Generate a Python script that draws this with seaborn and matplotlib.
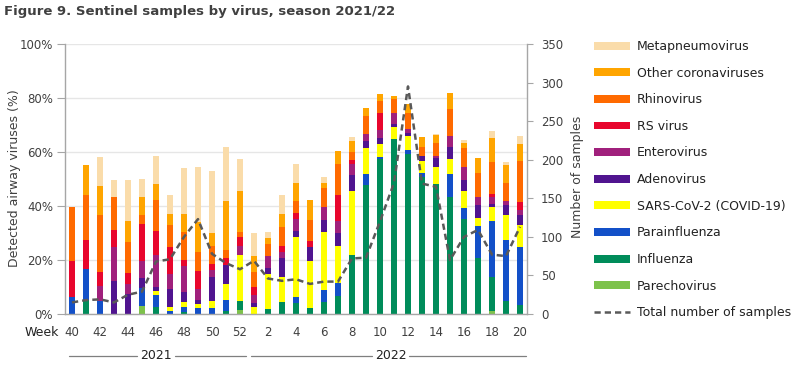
import matplotlib
matplotlib.use("Agg")
import matplotlib.pyplot as plt
import matplotlib.transforms as mtransforms
from matplotlib.lines import Line2D
from matplotlib.patches import Patch
from matplotlib.ticker import PercentFormatter, FixedLocator
import numpy as np
import pandas as pd
import seaborn as sns

# ---------------- data ----------------
weeks = [40, 41, 42, 43, 44, 45, 46, 47, 48, 49, 50, 51, 52,
         1, 2, 3, 4, 5, 6, 7, 8, 9, 10, 11, 12, 13, 14, 15, 16, 17, 18, 19, 20]

metapneumovirus = [0, 0, 10.8, 6.3, 15.2, 6.7, 10.4, 7.0, 16.7, 20.7, 23.0, 20.0, 11.9,
                   8.5, 1.9, 7.0, 6.7, 0, 2.2, 0, 1.5, 0, 0, 0, 0, 0, 0.4, 0, 1.1, 0, 2.6, 1.1, 3.0]
other_coronaviruses = [0, 11.1, 10.5, 0, 7.7, 6.7, 5.9, 4.1, 6.7, 10.8, 4.8, 18.2, 15.2,
                       5.9, 2.2, 4.8, 6.7, 7.4, 2.2, 4.8, 4.1, 3.0, 2.6, 1.1, 3.3, 3.7, 3.0, 5.6, 2.2, 5.6, 8.9, 6.7, 6.3]
rhinovirus = [20.0, 16.7, 21.2, 12.3, 11.5, 3.3, 11.5, 8.2, 10.4, 7.0, 6.7, 3.0, 1.9,
              5.6, 4.5, 7.0, 4.5, 7.8, 7.0, 11.5, 3.0, 6.7, 4.5, 5.2, 5.9, 3.3, 4.5, 10.0, 7.0, 8.9, 11.9, 6.7, 14.9]
rs_virus = [13.4, 10.9, 5.2, 6.3, 4.2, 13.4, 8.9, 10.0, 2.2, 6.9, 2.2, 2.6, 3.3,
            3.0, 0, 2.2, 2.2, 2.2, 0, 9.7, 1.5, 0, 6.3, 0, 0, 0, 0, 0, 0, 0, 1.1, 0, 3.0]
enterovirus = [0, 0, 5.4, 12.5, 3.7, 6.6, 11.9, 5.6, 9.7, 4.0, 2.6, 0, 3.3,
               3.0, 4.5, 2.2, 4.5, 0, 4.8, 4.5, 4.1, 2.6, 3.0, 4.1, 1.5, 0, 1.1, 4.1, 4.5, 3.0, 2.6, 1.5, 1.9]
adenovirus = [0, 0, 0, 12.4, 7.4, 3.5, 1.5, 6.7, 3.7, 1.5, 8.9, 7.0, 0,
              1.5, 2.2, 7.0, 2.2, 5.2, 4.5, 4.8, 5.6, 2.6, 2.2, 1.1, 1.1, 1.9, 3.0, 4.5, 4.1, 4.5, 1.1, 3.7, 3.7]
sars_cov_2 = [0, 0, 0, 0, 0, 0, 1.5, 1.5, 1.9, 1.5, 2.6, 5.9, 17.1,
              2.6, 13.0, 9.3, 22.3, 17.5, 21.2, 13.7, 23.8, 9.3, 4.8, 4.1, 5.2, 4.1, 6.3, 5.6, 6.3, 3.0, 5.2, 9.3, 8.2]
parainfluenza = [6.4, 11.4, 5.0, 0, 0, 6.7, 4.5, 1.1, 1.9, 2.2, 2.2, 4.1, 0,
                 0, 0, 0, 2.2, 0, 4.5, 4.8, 0, 4.1, 0.7, 0, 1.5, 1.5, 0, 8.5, 4.1, 11.9, 20.8, 22.6, 21.5]
influenza = [0, 5.2, 0, 0, 0, 0, 2.6, 0, 0.7, 0, 0, 1.1, 3.3,
             0, 1.9, 4.5, 4.1, 2.2, 4.5, 6.7, 21.9, 47.9, 57.5, 65.0, 59.4, 50.9, 48.3, 43.4, 35.3, 20.8, 12.6, 4.8, 3.3]
parechovirus = [0, 0, 0, 0, 0, 3.0, 0, 0, 0, 0, 0, 0, 1.5,
                0, 0, 0, 0, 0, 0, 0, 0, 0, 0, 0, 0, 0, 0, 0, 0, 0, 1.1, 0, 0]

total_samples = [15, 18, 19, 15, 25, 29, 68, 71, 100, 123, 78, 66, 58,
                 69, 46, 43, 45, 39, 42, 42, 72, 73, 120, 170, 295, 169, 165, 70, 100, 109, 77, 75, 113]

virus_names = ["Metapneumovirus", "Other coronaviruses", "Rhinovirus", "RS virus",
               "Enterovirus", "Adenovirus", "SARS-CoV-2 (COVID-19)", "Parainfluenza",
               "Influenza", "Parechovirus"]
virus_values = [metapneumovirus, other_coronaviruses, rhinovirus, rs_virus, enterovirus,
                adenovirus, sars_cov_2, parainfluenza, influenza, parechovirus]
virus_colors = ["#FADCAA", "#FFA500", "#FF6A00", "#E8062D", "#A0207C",
                "#50148F", "#FFFF00", "#1350C8", "#008C5A", "#7DC24B"]

year_groups = [("2021", 0, 12), ("2022", 13, 32)]

# ---------------- table ----------------
idx = list(range(len(weeks)))
rows = []
for name, vals in zip(virus_names, virus_values):
    for i, v in zip(idx, vals):
        rows.append({"idx": i, "virus": name, "pct": v})
df = pd.DataFrame(rows)
line_df = pd.DataFrame({"idx": idx, "samples": total_samples})

# ---------------- figure ----------------
sns.set_style("white")
plt.rcParams["font.family"] = ["DejaVu Sans"]
text_col = "#404040"
axis_col = "#A6A6A6"

fig = plt.figure(figsize=(8.0, 3.68), dpi=100)
W, H = 800, 368
ax = fig.add_axes([65 / W, 1 - 314 / H, (527 - 65) / W, (314 - 44) / H])

sns.histplot(data=df, x="idx", weights="pct", hue="virus", hue_order=virus_names,
             palette=dict(zip(virus_names, virus_colors)), multiple="stack",
             discrete=True, shrink=0.42, alpha=1, linewidth=0, legend=False, ax=ax)
for p in ax.patches:
    p.set_zorder(2)

ax.set_xlim(-0.5, len(weeks) - 0.5)
ax.set_ylim(0, 100)
ax.set_yticks([0, 20, 40, 60, 80, 100])
ax.yaxis.set_major_formatter(PercentFormatter(decimals=0))
ax.set_axisbelow(True)
ax.grid(axis="y", color="#E6E6E6", linewidth=1, zorder=0)
ax.grid(axis="x", visible=False)
ax.set_xlabel("")
ax.set_ylabel("")

major_pos = [i for i, w in enumerate(weeks) if w % 2 == 0]
ax.set_xticks(major_pos)
ax.set_xticklabels([str(weeks[i]) for i in major_pos])
ax.xaxis.set_minor_locator(FixedLocator(np.arange(-0.5, len(weeks), 1.0)))
ax.tick_params(axis="x", which="major", length=0, pad=9, labelsize=8.5, labelcolor=text_col)
ax.tick_params(axis="x", which="minor", length=4.5, width=0.8, color=axis_col, direction="out")
ax.tick_params(axis="y", length=5.5, width=0.8, color=axis_col, pad=3, labelsize=8.5,
               labelcolor=text_col, direction="out")
for s in ["top", "right"]:
    ax.spines[s].set_visible(False)
for s in ["left", "bottom"]:
    ax.spines[s].set_color(axis_col)
    ax.spines[s].set_linewidth(1)
    ax.spines[s].set_zorder(3)

# total samples line on secondary axis
ax2 = ax.twinx()
sns.lineplot(data=line_df, x="idx", y="samples", ax=ax2, color="#595959",
             linewidth=1.8, linestyle=(0, (2.5, 1.6)), legend=False)
ax2.set_ylim(0, 350)
ax2.set_yticks(range(0, 351, 50))
ax2.set_xlim(-0.5, len(weeks) - 0.5)
ax2.set_ylabel("")
ax2.set_xlabel("")
ax2.tick_params(axis="y", length=4, width=0.8, color=axis_col, pad=6, labelsize=8.5,
                labelcolor=text_col, direction="out")
for s in ["top", "left", "bottom"]:
    ax2.spines[s].set_visible(False)
ax2.spines["right"].set_color(axis_col)
ax2.spines["right"].set_linewidth(1)
ax2.grid(False)

# texts
fig.text(4 / W, 1 - 11.5 / H, "Figure 9. Sentinel samples by virus, season 2021/22",
         fontsize=9.5, fontweight="bold", color="#404040", va="center", ha="left")
fig.text(15 / W, 1 - 178 / H, "Detected airway viruses (%)", rotation=90,
         fontsize=9, color=text_col, va="center", ha="center")
fig.text(578 / W, 1 - 177 / H, "Number of samples", rotation=90,
         fontsize=9, color=text_col, va="center", ha="center")
fig.text(58.5 / W, 1 - 332.5 / H, "Week", fontsize=9, color="#222222", va="center", ha="right")

# year group labels
trans = mtransforms.blended_transform_factory(ax.transData, fig.transFigure)
yy = 1 - 355.7 / H
for label, a, b in year_groups:
    c = (a + b) / 2 + (0.25 if label == "2022" else 0)
    half_gap = 1.35
    ax.add_line(Line2D([a - 0.25, c - half_gap], [yy, yy], transform=trans,
                       color="#7F7F7F", linewidth=0.9, clip_on=False))
    ax.add_line(Line2D([c + half_gap, b + 0.42], [yy, yy], transform=trans,
                       color="#7F7F7F", linewidth=0.9, clip_on=False))
    ax.text(c, yy, label, transform=trans, ha="center", va="center",
            fontsize=9, color="#222222")

# legend
handles = [Patch(facecolor=c, edgecolor="none", label=n) for n, c in zip(virus_names, virus_colors)]
handles.append(Line2D([0], [0], color="#595959", linewidth=1.8, linestyle=(0, (2.5, 1.6)),
                      label="Total number of samples"))
leg = fig.legend(handles=handles, loc="upper left", bbox_to_anchor=(594 / W, 1 - 40 / H),
                 frameon=False, fontsize=9, handlelength=2.85, handleheight=0.6,
                 handletextpad=0.6, labelspacing=1.09, borderaxespad=0, borderpad=0)
for t in leg.get_texts():
    t.set_color("#222222")

fig.savefig("out.png", dpi=100)
